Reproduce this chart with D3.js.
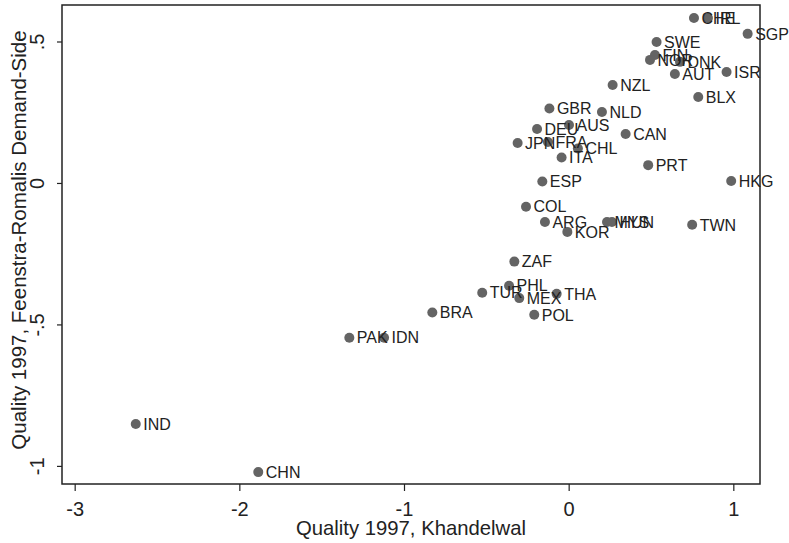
<!DOCTYPE html>
<meta charset="utf-8">
<style>
body { margin: 0; background: #fff; }
text { font-family: "Liberation Sans", Arial, sans-serif; }
.frame { fill: none; stroke: #222; stroke-width: 1.5; }
.axis path { display: none; }
.axis line { stroke: #222; stroke-width: 1.2; }
.axis text { font-size: 20px; fill: #222; }
</style>
<body>
<svg width="789" height="543"></svg>
<script src="https://d3js.org/d3.v7.min.js"></script>
<script>

// country codes and the two quality measures
var codes = ["CHE","IRL","SGP","SWE","FIN","NOR","DNK","AUT","ISR","NZL",
             "BLX","GBR","NLD","DEU","AUS","CAN","JPN","FRA","CHL","ITA",
             "PRT","ESP","HKG","COL","ARG","KOR","MYS","HUN","TWN","ZAF",
             "PHL","TUR","MEX","THA","POL","BRA","PAK","IDN","IND","CHN"];
var khandelwal = [0.761,0.846,1.087,0.534,0.524,0.494,0.676,0.645,0.959,0.267,
                  0.787,-0.117,0.202,-0.192,0.002,0.346,-0.310,-0.126,0.056,-0.043,
                  0.483,-0.160,0.987,-0.259,-0.144,-0.008,0.233,0.263,0.750,-0.330,
                  -0.362,-0.525,-0.300,-0.073,-0.209,-0.828,-1.332,-1.121,-2.629,-1.885];
var feenstra = [0.583,0.583,0.527,0.498,0.452,0.435,0.428,0.385,0.392,0.346,
                0.304,0.263,0.251,0.191,0.205,0.173,0.141,0.145,0.122,0.090,
                0.063,0.005,0.007,-0.084,-0.138,-0.173,-0.138,-0.138,-0.148,-0.278,
                -0.363,-0.388,-0.407,-0.392,-0.466,-0.458,-0.547,-0.547,-0.852,-1.022];

var xTicks = [-3,-2,-1,0,1];
var yTicks = [-1,-0.5,0,0.5];
var yTickLabels = ["-1","-.5","0",".5"];

var xTitle = "Quality 1997, Khandelwal";
var yTitle = "Quality 1997, Feenstra-Romalis Demand-Side";

var svg = d3.select("svg");
var plotLeft = 62, plotRight = 760, plotTop = 5, plotBottom = 484;

var x = d3.scaleLinear().domain([-3.077, 1.162]).range([plotLeft, plotRight]);
var y = d3.scaleLinear().domain([-1.064, 0.629]).range([plotBottom, plotTop]);

var points = codes.map(function(c, i){
	return {code: c, x: khandelwal[i], y: feenstra[i]};
});

svg.append("rect")
	.attr("width", 789).attr("height", 543)
	.attr("fill", "#fff");

// x axis
var gx = svg.append("g")
	.attr("class", "axis")
	.attr("transform", "translate(0," + plotBottom + ")")
	.call(d3.axisBottom(x).tickValues(xTicks).tickSize(7).tickPadding(7)
		.tickFormat(function(d){ return String(d); }));
gx.selectAll("text").attr("dy", "0.9em");

// y axis, labels rotated like stata
var gy = svg.append("g")
	.attr("class", "axis")
	.attr("transform", "translate(" + plotLeft + ",0)")
	.call(d3.axisLeft(y).tickValues(yTicks).tickSize(5)
		.tickFormat(function(d, i){ return yTickLabels[i]; }));
gy.selectAll("text")
	.attr("x", null).attr("dy", null)
	.attr("text-anchor", "middle")
	.attr("transform", "translate(-18,0) rotate(-90)");

svg.append("rect")
	.attr("class", "frame")
	.attr("x", plotLeft).attr("y", plotTop)
	.attr("width", plotRight - plotLeft).attr("height", plotBottom - plotTop);

svg.append("text")
	.attr("x", (plotLeft + plotRight) / 2)
	.attr("y", 535)
	.attr("text-anchor", "middle")
	.style("font-size", "20.3px")
	.style("fill", "#222")
	.text(xTitle);

svg.append("text")
	.attr("transform", "translate(25.5,240) rotate(-90)")
	.attr("text-anchor", "middle")
	.style("font-size", "20.5px")
	.style("fill", "#222")
	.text(yTitle);

// markers
svg.append("g").selectAll("circle")
	.data(points)
	.enter().append("circle")
	.attr("cx", function(d){ return x(d.x); })
	.attr("cy", function(d){ return y(d.y); })
	.attr("r", 5)
	.attr("fill", "#646464");

// marker labels at clock position 3
svg.append("g").selectAll("text")
	.data(points)
	.enter().append("text")
	.attr("x", function(d){ return x(d.x) + 7.5; })
	.attr("y", function(d){ return y(d.y) + 5.7; })
	.style("font-size", "16px")
	.style("fill", "#222")
	.text(function(d){ return d.code; });

</script>
</body>
</html>
